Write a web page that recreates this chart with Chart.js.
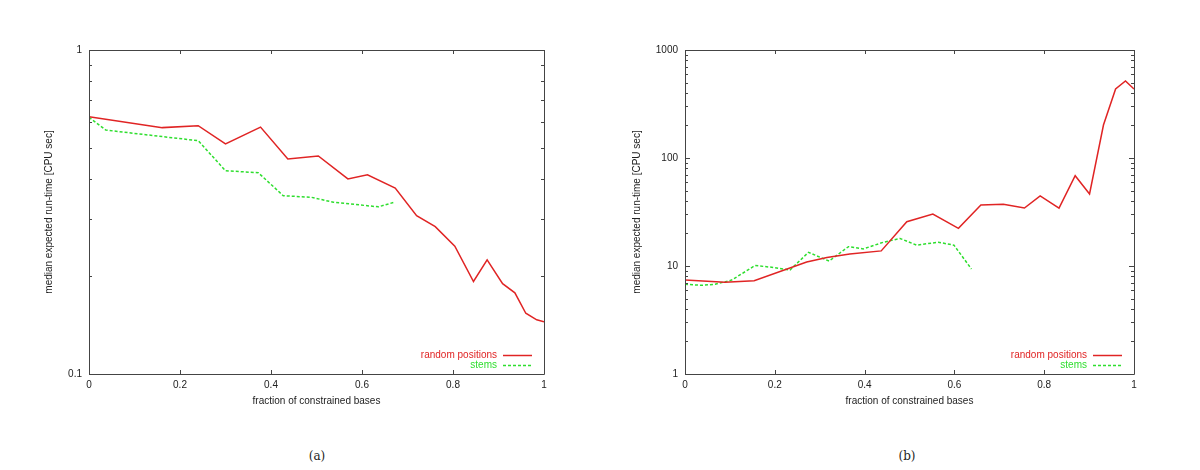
<!doctype html>
<html>

<head>
    <title>Run-time vs constrained bases</title>
    <script src="https://cdn.jsdelivr.net/npm/chart.js"></script>
    <style>
        body {
            margin: 0;
            padding: 0;
            width: 1200px;
            height: 470px;
            background-color: #ffffff;
            position: relative;
            overflow: hidden;
        }

        canvas {
            position: absolute;
            top: 0;
        }

        #graficoA { left: 0; }
        #graficoB { left: 600px; }

        .legenda {
            position: absolute;
            top: 449px;
            width: 60px;
            text-align: center;
            font-family: "DejaVu Serif", "Liberation Serif", serif;
            font-size: 12px;
            color: #222;
        }
    </style>
</head>

<body>
    <canvas id="graficoA" width="600" height="420"></canvas>
    <canvas id="graficoB" width="600" height="420"></canvas>
    <div class="legenda" style="left: 287px;">(a)</div>
    <div class="legenda" style="left: 877px;">(b)</div>

    <script>
        // (a) valores
        var aAleatorioX = [0, 0.161, 0.240, 0.300, 0.377, 0.437, 0.504, 0.569, 0.612, 0.673, 0.720, 0.761, 0.804, 0.845, 0.875, 0.909, 0.936, 0.960, 0.984, 1.0];
        var aAleatorioY = [0.622, 0.576, 0.584, 0.513, 0.578, 0.461, 0.471, 0.400, 0.412, 0.375, 0.308, 0.285, 0.248, 0.193, 0.225, 0.190, 0.178, 0.154, 0.147, 0.145];
        var aStemsX = [0, 0.037, 0.163, 0.240, 0.300, 0.372, 0.427, 0.489, 0.537, 0.636, 0.671];
        var aStemsY = [0.62, 0.566, 0.540, 0.525, 0.424, 0.418, 0.355, 0.351, 0.339, 0.328, 0.339];

        // (b)
        var bAleatorioX = [0, 0.089, 0.154, 0.271, 0.316, 0.367, 0.437, 0.494, 0.552, 0.609, 0.659, 0.709, 0.756, 0.791, 0.833, 0.869, 0.901, 0.932, 0.959, 0.981, 1.0];
        var bAleatorioY = [7.41, 7.06, 7.31, 10.9, 12.0, 12.9, 13.8, 25.7, 30.3, 22.3, 36.7, 37.3, 34.4, 44.5, 34.4, 68.6, 46.4, 202, 435, 517, 435];
        var bStemsX = [0, 0.037, 0.067, 0.104, 0.156, 0.197, 0.234, 0.275, 0.321, 0.364, 0.397, 0.442, 0.479, 0.516, 0.564, 0.599, 0.638];
        var bStemsY = [6.77, 6.63, 6.77, 7.41, 10.1, 9.7, 9.18, 13.4, 11.1, 15.1, 14.4, 16.6, 18.0, 15.6, 16.6, 15.6, 9.38];

        var xTicks = [0, 0.2, 0.4, 0.6, 0.8, 1];
        var aYTicks = [0.1, 1];
        var bYTicks = [1, 10, 100, 1000];

        var nomeAleatorio = 'random positions';
        var nomeStems = 'stems';
        var tituloX = 'fraction of constrained bases';
        var tituloY = 'median expected run-time [CPU sec]';

        var vermelho = '#e02424';
        var verde = '#2ede2e';
        var fonte = { family: '"Liberation Sans", Arial, sans-serif', size: 10 };

        function pontos(xs, ys) {
            return xs.map((x, i) => ({ x: x, y: ys[i] }));
        }

        // moldura e marcas internas (estilo gnuplot)
        var moldura = {
            id: 'moldura',
            afterDatasetsDraw(chart) {
                var ctx = chart.ctx;
                var a = chart.chartArea;
                var x = chart.scales.x;
                var y = chart.scales.y;
                ctx.save();
                ctx.strokeStyle = '#444';
                ctx.lineWidth = 1;
                ctx.beginPath();
                ctx.rect(a.left + 0.5, a.top + 0.5, a.right - a.left, a.bottom - a.top);
                ctx.stroke();

                ctx.beginPath();
                xTicks.forEach((v) => {
                    var px = Math.round(x.getPixelForValue(v)) + 0.5;
                    ctx.moveTo(px, a.bottom); ctx.lineTo(px, a.bottom - 4);
                    ctx.moveTo(px, a.top); ctx.lineTo(px, a.top + 4);
                });
                var min = y.min, max = y.max;
                for (var d = min; d < max * 0.999; d *= 10) {
                    for (var k = 1; k <= 10; k++) {
                        var v = d * k;
                        if (v > max * 1.001) break;
                        var len = (k === 1 || k === 10) ? 5 : 3;
                        var py = Math.round(y.getPixelForValue(v)) + 0.5;
                        ctx.moveTo(a.left, py); ctx.lineTo(a.left + len, py);
                        ctx.moveTo(a.right, py); ctx.lineTo(a.right - len, py);
                    }
                }
                ctx.stroke();

                // legenda no canto inferior direito
                ctx.font = fonte.size + 'px ' + fonte.family;
                ctx.textAlign = 'right';
                ctx.textBaseline = 'middle';
                chart.data.datasets.forEach((ds, i) => {
                    var ly = a.bottom - 19 + i * 10;
                    ctx.fillStyle = ds.borderColor;
                    ctx.fillText(ds.label, a.right - 47, ly);
                    ctx.strokeStyle = ds.borderColor;
                    ctx.lineWidth = 1.5;
                    ctx.setLineDash(ds.borderDash || []);
                    ctx.beginPath();
                    ctx.moveTo(a.right - 41, ly + 0.5);
                    ctx.lineTo(a.right - 12, ly + 0.5);
                    ctx.stroke();
                });
                ctx.restore();
            }
        };

        function criarGrafico(id, aleatorio, stems, yMin, yMax, yTicks, larguraY, direita, tituloPad) {
            return new Chart(document.getElementById(id).getContext('2d'), {
                type: 'line',
                data: {
                    datasets: [{
                        label: nomeAleatorio,
                        data: aleatorio,
                        borderColor: vermelho,
                        borderWidth: 1.5,
                        pointRadius: 0,
                        tension: 0
                    }, {
                        label: nomeStems,
                        data: stems,
                        borderColor: verde,
                        borderWidth: 1.5,
                        borderDash: [3, 2],
                        pointRadius: 0,
                        tension: 0
                    }]
                },
                options: {
                    responsive: false,
                    animation: false,
                    layout: { padding: { top: 50, right: direita, left: 0, bottom: 0 } },
                    plugins: {
                        legend: { display: false },
                        tooltip: { enabled: false }
                    },
                    scales: {
                        x: {
                            type: 'linear',
                            min: 0,
                            max: 1,
                            grid: { display: false, drawTicks: false },
                            border: { display: false },
                            afterBuildTicks: (s) => { s.ticks = xTicks.map((v) => ({ value: v })); },
                            afterFit: (s) => { s.height = 46; },
                            ticks: {
                                padding: 5,
                                color: '#222',
                                font: fonte,
                                maxRotation: 0,
                                callback: (v) => String(v)
                            },
                            title: {
                                display: true,
                                text: tituloX,
                                color: '#222',
                                font: fonte,
                                padding: { top: 0, bottom: 13 }
                            }
                        },
                        y: {
                            type: 'logarithmic',
                            min: yMin,
                            max: yMax,
                            grid: { display: false, drawTicks: false },
                            border: { display: false },
                            afterBuildTicks: (s) => { s.ticks = yTicks.map((v) => ({ value: v })); },
                            afterFit: (s) => { s.width = larguraY; },
                            ticks: {
                                padding: 7,
                                color: '#222',
                                font: fonte,
                                callback: (v) => String(v)
                            },
                            title: {
                                display: true,
                                text: tituloY,
                                color: '#222',
                                font: fonte,
                                padding: { top: tituloPad, bottom: 0 }
                            }
                        }
                    }
                },
                plugins: [moldura]
            });
        }

        criarGrafico('graficoA', pontos(aAleatorioX, aAleatorioY), pontos(aStemsX, aStemsY), 0.1, 1, aYTicks, 89, 56, 43);
        criarGrafico('graficoB', pontos(bAleatorioX, bAleatorioY), pontos(bStemsX, bStemsY), 1, 1000, bYTicks, 85, 66, 31);
    </script>
</body>

</html>
